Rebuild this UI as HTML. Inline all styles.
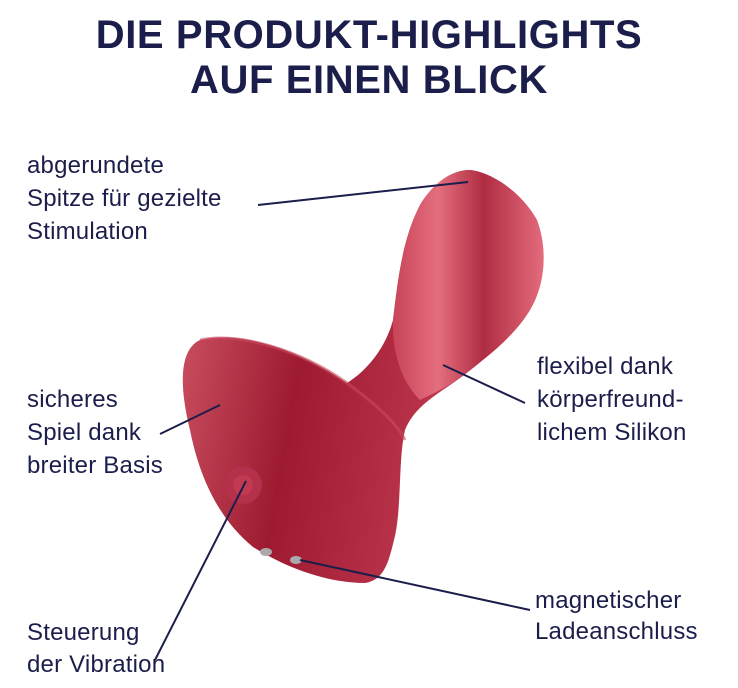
<!DOCTYPE html>
<html><head><meta charset="utf-8"><style>
html,body{margin:0;padding:0;background:#fff;}
body{width:738px;height:688px;position:relative;overflow:hidden;font-family:"Liberation Sans",sans-serif;color:#1b1e4b;}
.t{position:absolute;left:0;width:738px;text-align:center;font-weight:bold;font-size:40px;line-height:44px;letter-spacing:0.6px;}
.l{position:absolute;font-size:24px;line-height:33px;white-space:nowrap;letter-spacing:0.2px;}
</style></head><body>
<div class="t" style="top:13px">DIE PRODUKT-HIGHLIGHTS</div>
<div class="t" style="top:58px">AUF EINEN BLICK</div>
<svg width="738" height="688" style="position:absolute;left:0;top:0">
<defs>
<linearGradient id="g1" x1="0" y1="0" x2="1" y2="0.2">
<stop offset="0" stop-color="#d25a6a"/><stop offset="0.4" stop-color="#9e1a30"/><stop offset="0.75" stop-color="#b8334a"/><stop offset="1" stop-color="#e06a7a"/>
</linearGradient>
<linearGradient id="g2" x1="0" y1="0" x2="1" y2="0">
<stop offset="0" stop-color="#c84458"/><stop offset="0.3" stop-color="#e46e7e"/><stop offset="0.6" stop-color="#b02c42"/><stop offset="1" stop-color="#e46c7c"/>
</linearGradient>
</defs>
<path d="M470,170 C490,172 520,190 537,220 C548,250 545,285 530,310 C515,335 490,355 460,378 C440,393 415,405 405,430 C398,460 402,510 394,540 C389,560 385,580 365,583 C330,583 290,570 253,547 C220,520 200,480 190,430 C180,390 178,350 200,340 C240,330 300,350 347,383 C365,372 385,350 393,320 C398,280 402,240 420,205 C432,185 450,170 470,170 Z" fill="url(#g1)"/>
<path d="M470,170 C490,172 520,190 537,220 C548,250 545,285 530,310 C515,335 490,355 460,378 C445,388 430,395 420,400 C400,380 392,350 393,320 C398,280 402,240 420,205 C432,185 450,170 470,170 Z" fill="url(#g2)"/>
<path d="M200,340 C240,332 300,350 347,383 C370,400 395,420 405,440" fill="none" stroke="#c94a5e" stroke-width="3" opacity="0.6"/>
<circle cx="243" cy="485" r="19" fill="#b5304a"/><circle cx="243" cy="485" r="10" fill="#c23a52"/>
<ellipse cx="266" cy="552" rx="6" ry="4" fill="#aaa"/><ellipse cx="296" cy="560" rx="6" ry="4" fill="#aaa"/>
<g stroke="#1b1e4b" stroke-width="2" fill="none">
<line x1="258" y1="205" x2="468" y2="182"/>
<line x1="160" y1="434" x2="220" y2="405"/>
<line x1="525" y1="403" x2="443" y2="365"/>
<line x1="155" y1="660" x2="246" y2="481"/>
<line x1="530" y1="610" x2="300" y2="560"/>
</g>
</svg>
<div class="l" style="left:27px;top:149px">abgerundete<br>Spitze für gezielte<br>Stimulation</div>
<div class="l" style="left:27px;top:383px">sicheres<br>Spiel dank<br>breiter Basis</div>
<div class="l" style="left:537px;top:350px">flexibel dank<br>körperfreund-<br>lichem Silikon</div>
<div class="l" style="left:535px;top:585px;line-height:31px">magnetischer<br>Ladeanschluss</div>
<div class="l" style="left:27px;top:617px;line-height:32px">Steuerung<br>der Vibration</div>
</body></html>
